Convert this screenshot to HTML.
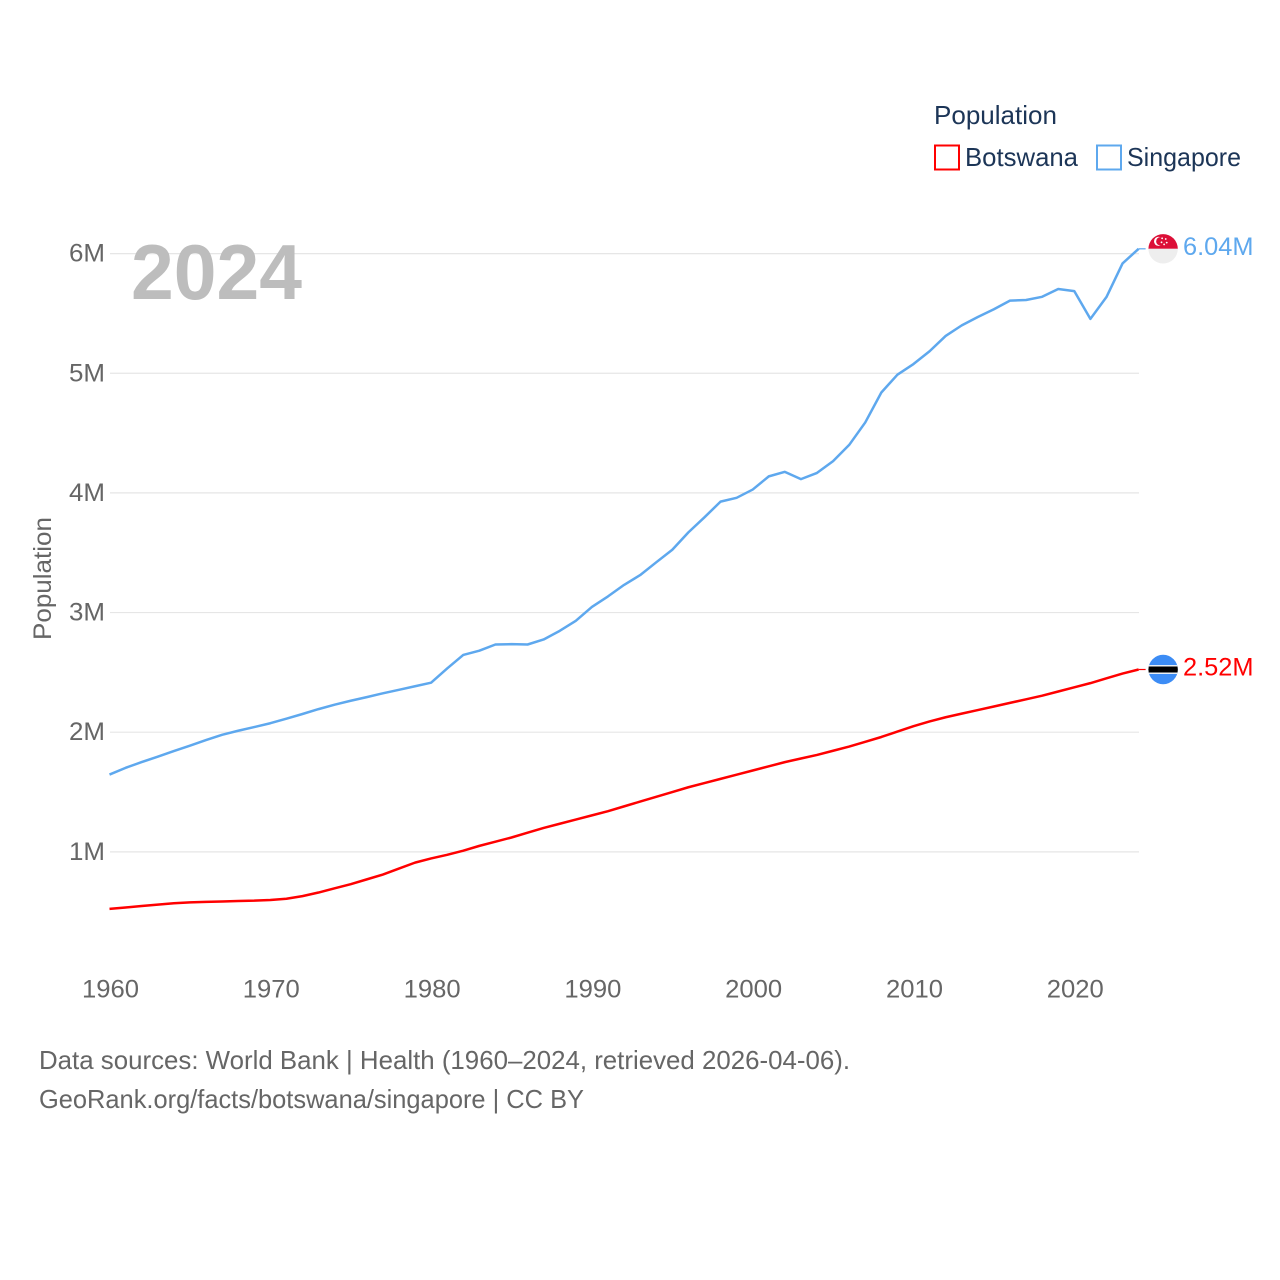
<!DOCTYPE html>
<html lang="en">
<head>
<meta charset="utf-8">
<title>Population: Botswana and Singapore</title>
<style>
html,body{margin:0;padding:0;background:#fff;}
svg{display:block;font-family:"Liberation Sans",sans-serif;}
</style>
</head>
<body>
<svg id="chart" width="1280" height="1280" viewBox="0 0 1280 1280" xmlns="http://www.w3.org/2000/svg">
  <defs>
    <clipPath id="clip-flag-sg"><circle id="clip-sg-circle" cx="1163.5" cy="248.5" r="14.7"/></clipPath>
    <clipPath id="clip-flag-bw"><circle id="clip-bw-circle" cx="1163.5" cy="669" r="14.7"/></clipPath>
  </defs>
  <rect width="1280" height="1280" fill="#ffffff"/>
  <g id="grid"></g>
  <text x="131" y="299" font-size="78" font-weight="700" fill="#bdbdbd" textLength="171" lengthAdjust="spacingAndGlyphs">2024</text>
  <g id="y-ticks"></g>
  <g id="x-ticks"></g>
  <text transform="translate(51,640) rotate(-90)" font-size="25" fill="#666666" textLength="123" lengthAdjust="spacingAndGlyphs">Population</text>
  <g id="series"></g>

  <g>
    <text x="934" y="124" font-size="26" fill="#1c3557" textLength="123" lengthAdjust="spacingAndGlyphs">Population</text>
    <g>
      <rect x="935" y="145.5" width="24" height="24" fill="#fff" stroke="#ff0000" stroke-width="2"/>
      <text x="965" y="166" font-size="26" fill="#1c3557" textLength="113" lengthAdjust="spacingAndGlyphs">Botswana</text>
    </g>
    <g>
      <rect x="1097" y="145.5" width="24" height="24" fill="#fff" stroke="#5ea8ee" stroke-width="2"/>
      <text x="1127" y="166" font-size="26" fill="#1c3557" textLength="114" lengthAdjust="spacingAndGlyphs">Singapore</text>
    </g>
  </g>

  <g id="flag-sg"></g>
  <g id="flag-bw"></g>
  <g id="end-labels"></g>

  <text x="39" y="1069" font-size="26" fill="#666666" textLength="811" lengthAdjust="spacingAndGlyphs">Data sources: World Bank | Health (1960–2024, retrieved 2026-04-06).</text>
  <text x="39" y="1108" font-size="26" fill="#666666" textLength="545" lengthAdjust="spacingAndGlyphs">GeoRank.org/facts/botswana/singapore | CC BY</text>
</svg>
<script>
var startYear = 1960;
var xTickYears = [1960, 1970, 1980, 1990, 2000, 2010, 2020];
var yTickValues = [1, 2, 3, 4, 5, 6];
var yTickLabels = ['1M', '2M', '3M', '4M', '5M', '6M'];
var singaporeValues = [1.646,1.702,1.750,1.795,1.842,1.887,1.934,1.978,2.012,2.043,2.075,2.113,2.152,2.193,2.230,2.263,2.293,2.325,2.354,2.384,2.414,2.533,2.646,2.681,2.733,2.736,2.733,2.775,2.847,2.931,3.047,3.135,3.231,3.313,3.420,3.525,3.670,3.796,3.927,3.959,4.028,4.138,4.176,4.115,4.167,4.266,4.401,4.589,4.839,4.988,5.077,5.184,5.312,5.400,5.470,5.535,5.607,5.612,5.639,5.704,5.686,5.454,5.637,5.918,6.040];
var botswanaValues = [0.523,0.535,0.547,0.559,0.570,0.578,0.582,0.585,0.589,0.592,0.598,0.608,0.630,0.660,0.695,0.730,0.770,0.810,0.860,0.910,0.945,0.975,1.010,1.050,1.085,1.120,1.160,1.200,1.235,1.270,1.305,1.340,1.380,1.420,1.460,1.500,1.540,1.575,1.610,1.645,1.680,1.715,1.750,1.780,1.810,1.845,1.880,1.920,1.960,2.005,2.050,2.090,2.125,2.155,2.185,2.215,2.245,2.275,2.305,2.340,2.375,2.410,2.450,2.490,2.524];

var NS = 'http://www.w3.org/2000/svg';
function xScale(year) { return 109.5 + (year - 1960) * 16.08; }
function yScale(v) { return 971.5 - v * 119.65; }
function make(tag, attrs, parent) {
  var el = document.createElementNS(NS, tag);
  for (var k in attrs) el.setAttribute(k, attrs[k]);
  parent.appendChild(el);
  return el;
}
function fmt(v) { return v.toFixed(2) + 'M'; }

var gridGroup = document.getElementById('grid');
var yTickGroup = document.getElementById('y-ticks');
yTickValues.forEach(function (v, i) {
  var line = make('line', {x1: 110, x2: 1139, y1: yScale(v), y2: yScale(v), stroke: '#e6e6e6', 'stroke-width': 1.2}, gridGroup);
  
  
  var label = make('text', {x: 105, y: yScale(v) + 8, 'font-size': 25, fill: '#666666', 'text-anchor': 'end', textLength: 36, lengthAdjust: 'spacingAndGlyphs'}, yTickGroup);
  
  
  label.textContent = yTickLabels[i];
});

var xTickGroup = document.getElementById('x-ticks');
xTickYears.forEach(function (year) {
  var label = make('text', {x: xScale(year) + 1, y: 997.5, 'font-size': 25, fill: '#666666', 'text-anchor': 'middle', textLength: 57, lengthAdjust: 'spacingAndGlyphs'}, xTickGroup);
  
  
  label.textContent = String(year);
});

function pathFor(values) {
  return values.map(function (v, i) {
    return (i ? 'L' : 'M') + xScale(startYear + i).toFixed(2) + ' ' + yScale(v).toFixed(2);
  }).join(' ');
}
var seriesGroup = document.getElementById('series');
var singaporeLine = make('path', {d: pathFor(singaporeValues), fill: 'none', stroke: '#5ea8ee', 'stroke-width': 2.5, 'stroke-linejoin': 'round'}, seriesGroup);


var botswanaLine = make('path', {d: pathFor(botswanaValues), fill: 'none', stroke: '#ff0000', 'stroke-width': 2.5, 'stroke-linejoin': 'round'}, seriesGroup);



var lastYear = startYear + singaporeValues.length - 1;
var endX = xScale(lastYear);
var sgY = yScale(singaporeValues[singaporeValues.length - 1]);
var bwY = yScale(botswanaValues[botswanaValues.length - 1]);

var sgLeader = make('line', {x1: endX, x2: endX + 7, y1: sgY, y2: sgY, stroke: '#5ea8ee', 'stroke-width': 1.2}, seriesGroup);


var bwLeader = make('line', {x1: endX, x2: endX + 7, y1: bwY, y2: bwY, stroke: '#ff0000', 'stroke-width': 1.2}, seriesGroup);



var cx = endX + 24.5;
document.getElementById('clip-sg-circle').setAttribute('cx', cx);
document.getElementById('clip-sg-circle').setAttribute('cy', sgY);
document.getElementById('clip-bw-circle').setAttribute('cx', cx);
document.getElementById('clip-bw-circle').setAttribute('cy', bwY);

var sg = document.getElementById('flag-sg');
sg.setAttribute('clip-path', 'url(#clip-flag-sg)');
make('rect', {x: cx - 16, y: sgY - 16, width: 32, height: 16, fill: '#dc0f37'}, sg);
make('rect', {x: cx - 16, y: sgY, width: 32, height: 16, fill: '#eeeeee'}, sg);
make('circle', {cx: cx - 4.5, cy: sgY - 7.5, r: 4.6, fill: '#ffffff'}, sg);
make('circle', {cx: cx - 2.8, cy: sgY - 7.5, r: 4.2, fill: '#dc0f37'}, sg);
[[-1, -10.5], [2.6, -9.8], [-1.6, -6.5], [3.6, -6.2], [1, -4.4]].forEach(function (p) {
  make('circle', {cx: cx + p[0], cy: sgY + p[1], r: 0.9, fill: '#ffffff'}, sg);
});

var bw = document.getElementById('flag-bw');
bw.setAttribute('clip-path', 'url(#clip-flag-bw)');
make('rect', {x: cx - 16, y: bwY - 16, width: 32, height: 32, fill: '#3c8cf5'}, bw);
make('rect', {x: cx - 16, y: bwY - 4.5, width: 32, height: 9, fill: '#e8eef4'}, bw);
make('rect', {x: cx - 16, y: bwY - 3, width: 32, height: 6, fill: '#000000'}, bw);

var endGroup = document.getElementById('end-labels');
var sgLabel = make('text', {x: 1183, y: sgY + 6, 'font-size': 25, fill: '#5ea8ee', textLength: 70.5, lengthAdjust: 'spacingAndGlyphs'}, endGroup);


sgLabel.textContent = fmt(singaporeValues[singaporeValues.length - 1]);
var bwLabel = make('text', {x: 1183, y: bwY + 6, 'font-size': 25, fill: '#ff0000', textLength: 70.5, lengthAdjust: 'spacingAndGlyphs'}, endGroup);


bwLabel.textContent = fmt(botswanaValues[botswanaValues.length - 1]);
</script>
</body>
</html>
